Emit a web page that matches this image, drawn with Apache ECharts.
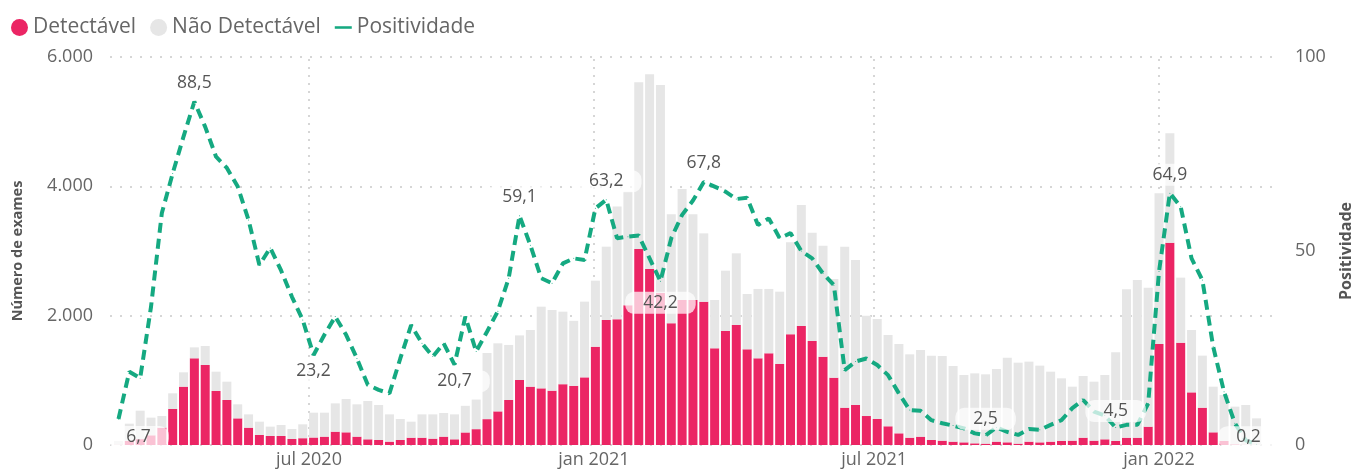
<!DOCTYPE html>
<html>
<head>
<meta charset="utf-8">
<script src="https://cdn.jsdelivr.net/npm/echarts@6/dist/echarts.min.js"></script>
<style>
html,body{margin:0;padding:0;background:#fff;}
#chart{width:1362px;height:471px;}
</style>
</head>
<body>
<div id="chart"></div>
<script>
// semanas (data de fim da semana)
let semanas=[
 '2020-02-29','2020-03-07','2020-03-14','2020-03-21','2020-03-28','2020-04-04','2020-04-11','2020-04-18','2020-04-25',
 '2020-05-02','2020-05-09','2020-05-16','2020-05-23','2020-05-30','2020-06-06','2020-06-13','2020-06-20','2020-06-27',
 '2020-07-04','2020-07-11','2020-07-18','2020-07-25','2020-08-01','2020-08-08','2020-08-15','2020-08-22','2020-08-29',
 '2020-09-05','2020-09-12','2020-09-19','2020-09-26','2020-10-03','2020-10-10','2020-10-17','2020-10-24','2020-10-31',
 '2020-11-07','2020-11-14','2020-11-21','2020-11-28','2020-12-05','2020-12-12','2020-12-19','2020-12-26',
 '2021-01-02','2021-01-09','2021-01-16','2021-01-23','2021-01-30','2021-02-06','2021-02-13','2021-02-20','2021-02-27',
 '2021-03-06','2021-03-13','2021-03-20','2021-03-27','2021-04-03','2021-04-10','2021-04-17','2021-04-24',
 '2021-05-01','2021-05-08','2021-05-15','2021-05-22','2021-05-29','2021-06-05','2021-06-12','2021-06-19','2021-06-26',
 '2021-07-03','2021-07-10','2021-07-17','2021-07-24','2021-07-31','2021-08-07','2021-08-14','2021-08-21','2021-08-28',
 '2021-09-04','2021-09-11','2021-09-18','2021-09-25','2021-10-02','2021-10-09','2021-10-16','2021-10-23','2021-10-30',
 '2021-11-06','2021-11-13','2021-11-20','2021-11-27','2021-12-04','2021-12-11','2021-12-18','2021-12-25',
 '2022-01-01','2022-01-08','2022-01-15','2022-01-22','2022-01-29','2022-02-05','2022-02-12','2022-02-19','2022-02-26',
 '2022-03-05'
];
let detectavel=[
 4,62,91,150,268,557,902,1340,1237,835,696,412,268,155,139,139,93,105,
 116,129,206,196,129,88,77,52,77,113,113,98,129,88,194,245,400,520,
 696,1005,902,876,840,940,915,1046,1521,1933,1946,2160,3031,2722,2350,1882,2242,
 2242,2217,1495,1763,1856,1479,1340,1418,1253,1711,1840,1608,1366,1041,577,619,448,
 402,289,180,113,129,77,67,52,41,26,21,52,41,21,52,41,52,62,
 67,113,67,88,62,113,113,284,1562,3129,1583,814,577,196,62,10,5,1
];
let naoDetectavel=[
 56,268,440,273,180,242,222,170,294,299,283,217,206,206,145,170,154,215,
 384,371,438,515,500,592,542,422,325,248,361,376,366,386,412,458,1023,1052,
 851,690,876,1263,1248,1122,1005,1171,1020,1134,1744,1758,2578,3010,3218,1685,1717,
 1325,1056,747,933,1108,856,1073,995,1118,1423,1872,1676,1717,1526,2490,2242,1552,
 1547,1412,1382,1289,1340,1305,1309,1170,1042,1082,1072,1123,1310,1252,1237,1186,1082,969,
 835,954,912,995,1371,2294,2439,2149,2330,1691,1005,964,805,706,711,583,614,411
];
let positividade=[
 6.7,18.9,17.2,35.6,59.8,70,79.5,88.5,82,74.3,71.4,66.6,58,46.4,50.8,45,38.2,32.2,
 23.2,28.4,33.1,28.4,22.3,15.5,14.2,13.3,22.3,30.9,26.2,22.8,26.2,20.7,33.1,24.1,29.2,34.5,
 43,59.1,51.5,43,41.7,46.8,48.1,47.7,61,63.2,53.3,53.7,54,48.1,42.2,53.3,59.3,
 63,67.8,66.6,65.3,63.4,63.7,56.7,58.4,53.3,54.6,50,48.1,44.2,41.2,19.3,21.5,22.3,
 20.6,18,13.3,9,8.8,6.4,5.6,5,4.3,3,2.5,4.5,3.4,2.6,4.1,3.9,5.2,6.4,
 9.5,11.6,8.6,7.6,4.5,5.2,5.2,10.7,44.7,64.9,61.4,48.1,42.5,25.3,13.7,5.6,1.2,0.2
];
// rótulos do eixo x
let marcasData=['2020-07-01','2021-01-01','2021-07-01','2022-01-01'];
let marcasTexto=['jul 2020','jan 2021','jul 2021','jan 2022'];

// pontos da linha que levam rótulo
let rotulos={
 0:{position:'inside',offset:[20,18]},
 7:{position:'top',distance:7},
 18:{position:'bottom',distance:5},
 31:{position:'bottom',distance:5},
 37:{position:'top',distance:7},
 45:{position:'top',distance:7},
 50:{position:'bottom',distance:10},
 54:{position:'top',distance:7},
 80:{position:'top',distance:5},
 92:{position:'top',distance:5},
 97:{position:'top',distance:7},
 105:{position:'inside',offset:[-8,-7]}
};

let fonte='"Open Sans", "Noto Sans", sans-serif';
let cinzaTexto='#666';

function milhar(v){
    return String(v).replace(/\B(?=(\d{3})+(?!\d))/g,'.');
}
function virgula(v){
    return v.toFixed(1).replace('.',',');
}

let dadosDet=semanas.map((d,i)=>[d,detectavel[i]]);
let dadosNao=semanas.map((d,i)=>[d,naoDetectavel[i]]);
let dadosPos=semanas.map((d,i)=>{
    let item={value:[d,positividade[i]]};
    if(rotulos[i]){
        item.label=Object.assign({show:true},rotulos[i]);
    }
    return item;
});

var myChart=echarts.init(document.getElementById('chart'));
let option={
    animation:false,
    textStyle:{fontFamily:fonte},
    legend:{
        left:6,
        top:12,
        itemWidth:17,
        itemHeight:17,
        itemGap:14,
        textStyle:{fontSize:21,color:cinzaTexto,fontFamily:fonte},
        data:[
            {name:'Detectável',icon:'circle'},
            {name:'Não Detectável',icon:'circle'},
            {name:'Positividade',icon:'path://M0,0L20,0L20,3L0,3Z'}
        ]
    },
    grid:{left:110,right:85,top:57,bottom:26},
    xAxis:{
        type:'time',
        min:'2020-02-26 10:00',
        max:'2022-03-14 00:00',
        axisLine:{show:false},
        axisTick:{show:false},
        axisLabel:{show:false},
        splitLine:{show:false}
    },
    yAxis:[{
        type:'value',
        min:0,
        max:6000,
        interval:2000,
        name:'Número de exames',
        nameLocation:'middle',
        nameRotate:90,
        nameGap:85,
        nameTextStyle:{fontSize:14.5,fontWeight:'bold',color:'#555',fontFamily:fonte},
        axisLine:{show:false},
        axisTick:{show:false},
        axisLabel:{formatter:milhar,fontSize:18,color:cinzaTexto,margin:17,fontFamily:fonte},
        splitLine:{lineStyle:{type:[2,8],width:2,color:'#d6d6d6'}}
    },{
        type:'value',
        min:0,
        max:100,
        interval:50,
        name:'Positividade',
        nameLocation:'middle',
        nameRotate:90,
        nameGap:63,
        nameTextStyle:{fontSize:16,fontWeight:'bold',color:'#555',fontFamily:fonte},
        axisLine:{show:false},
        axisTick:{show:false},
        axisLabel:{fontSize:18,color:cinzaTexto,margin:20,fontFamily:fonte},
        splitLine:{show:false}
    }],
    series:[{
        name:'Detectável',
        type:'bar',
        stack:'exames',
        barWidth:9,
        itemStyle:{color:'#EB2564'},
        data:dadosDet
    },{
        name:'Não Detectável',
        type:'bar',
        stack:'exames',
        barWidth:9,
        itemStyle:{color:'#E6E6E6'},
        data:dadosNao,
        markLine:{
            silent:true,
            symbol:'none',
            z:1,
            lineStyle:{type:[2,6],width:2,color:'#d6d6d6'},
            label:{position:'start',distance:6,fontSize:18,color:cinzaTexto,fontFamily:fonte},
            data:marcasData.map((d,i)=>({xAxis:d,label:{formatter:marcasTexto[i]}}))
        }
    },{
        name:'Positividade',
        type:'line',
        yAxisIndex:1,
        symbol:'circle',
        symbolSize:1,
        showSymbol:true,
        itemStyle:{color:'#15A981'},
        lineStyle:{color:'#15A981',width:4,type:[10,6]},
        label:{
            show:false,
            formatter:p=>virgula(p.value[1]),
            fontSize:17.5,
            color:'#555',
            fontFamily:fonte,
            backgroundColor:'rgba(255,255,255,0.72)',
            padding:[2,18],
            borderRadius:9
        },
        data:dadosPos
    }]
};
myChart.setOption(option);
</script>
</body>
</html>
